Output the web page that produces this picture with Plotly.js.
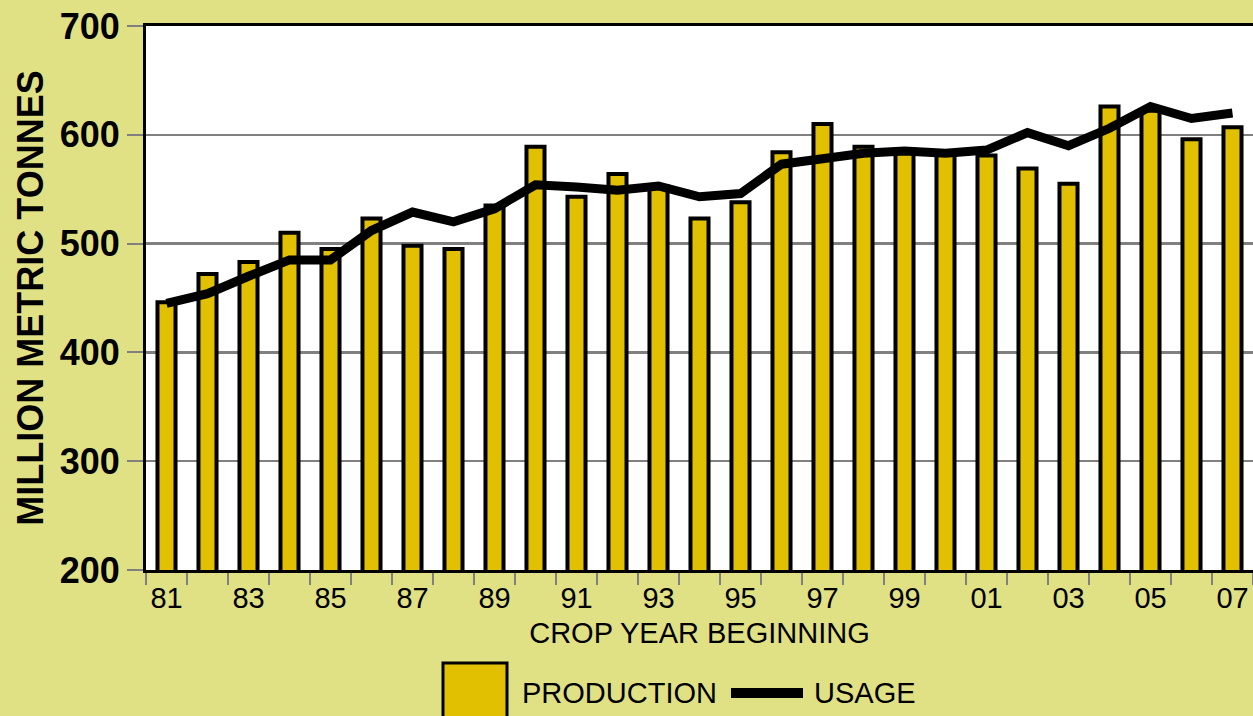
<!DOCTYPE html>
<html>
<head>
<meta charset="utf-8">
<script src="https://cdn.plot.ly/plotly-3.0.1.min.js"></script>
<style>
  html, body { margin: 0; padding: 0; background: #E0E084; }
  #chart { width: 1253px; height: 716px; }
</style>
</head>
<body>
<div id="chart"></div>
<script>
// Crop years (2-digit labels), 1981 .. 2007
var years = ['81','82','83','84','85','86','87','88','89','90','91','92','93','94','95','96','97','98','99','00','01','02','03','04','05','06','07'];
// Tick labels shown (every other year)
var shownLabels = ['81','83','85','87','89','91','93','95','97','99','01','03','05','07'];
// Production, million metric tonnes
var production = [446, 472, 483, 510, 495, 523, 498, 495, 535, 589, 543, 564, 553, 523, 538, 584, 610, 589, 587, 583, 581, 569, 555, 626, 622, 596, 607];
// Usage, million metric tonnes
var usage = [445, 454, 470, 485, 485, 512, 529, 520, 532, 554, 552, 549, 553, 543, 546, 573, 578, 583, 585, 583, 586, 602, 590, 606, 626, 615, 620];

var tickText = years.map(function (y) { return shownLabels.indexOf(y) >= 0 ? y : ''; });

var BG = '#E0E084';
var BAR = '#E0C000';
var FONT = 'Liberation Sans, Arial, sans-serif';

var traces = [
  {
    type: 'bar', name: 'PRODUCTION', x: years, y: production,
    width: 0.44,
    marker: { color: BAR, line: { color: '#000000', width: 4 } },
    showlegend: false, hoverinfo: 'x+y'
  },
  {
    type: 'scatter', mode: 'lines', name: 'USAGE', x: years, y: usage,
    line: { color: '#000000', width: 9 },
    showlegend: false, hoverinfo: 'x+y'
  }
];

// plot area in pixels: x 146..1253, y 26..570
function px(x) { return (x - 146) / 1107; }
function py(y) { return (570 - y) / 544; }

var layout = {
  width: 1253, height: 716,
  paper_bgcolor: BG, plot_bgcolor: '#FFFFFF',
  margin: { l: 146, r: 0, t: 26, b: 146, pad: 0 },
  font: { family: FONT, color: '#000000' },
  showlegend: false,
  xaxis: {
    type: 'category',
    range: [-0.5, 26.5],
    tickmode: 'array', tickvals: years, ticktext: tickText,
    tickson: 'boundaries', tickangle: 0,
    ticks: 'outside', ticklen: 12, tickwidth: 2, tickcolor: '#808080',
    tickfont: { family: FONT, size: 29, color: '#000000' },
    showline: true, linecolor: '#000000', linewidth: 3, mirror: true,
    showgrid: false, zeroline: false,
    title: { text: 'CROP YEAR BEGINNING', font: { family: FONT, size: 29, color: '#000000' }, standoff: 10 },
    automargin: false,
    fixedrange: true
  },
  yaxis: {
    range: [200, 700],
    tickmode: 'array', tickvals: [200, 300, 400, 500, 600, 700],
    ticks: 'outside', ticklen: 16, tickwidth: 2, tickcolor: '#808080',
    tickfont: { family: FONT, size: 36, color: '#000000', weight: 'bold' },
    showline: true, linecolor: '#000000', linewidth: 3,
    showgrid: true, gridcolor: '#808080', gridwidth: 2.5,
    zeroline: false,
    title: { text: 'MILLION METRIC TONNES', font: { family: FONT, size: 36, color: '#000000', weight: 'bold' }, standoff: 6 },
    automargin: false,
    fixedrange: true
  },
  shapes: [
    { type: 'rect', xref: 'paper', yref: 'paper', x0: px(443), x1: px(507), y0: py(728), y1: py(663),
      fillcolor: BAR, line: { color: '#000000', width: 3 } },
    { type: 'line', xref: 'paper', yref: 'paper', x0: px(731), x1: px(803), y0: py(693), y1: py(693),
      line: { color: '#000000', width: 10 } }
  ],
  annotations: [
    { xref: 'paper', yref: 'paper', x: px(520), y: py(693), xanchor: 'left', yanchor: 'middle',
      text: 'PRODUCTION', showarrow: false, font: { family: FONT, size: 29, color: '#000000' } },
    { xref: 'paper', yref: 'paper', x: px(812), y: py(693), xanchor: 'left', yanchor: 'middle',
      text: 'USAGE', showarrow: false, font: { family: FONT, size: 29, color: '#000000' } }
  ]
};

Plotly.newPlot('chart', traces, layout, { displayModeBar: false, staticPlot: true });
</script>
</body>
</html>
